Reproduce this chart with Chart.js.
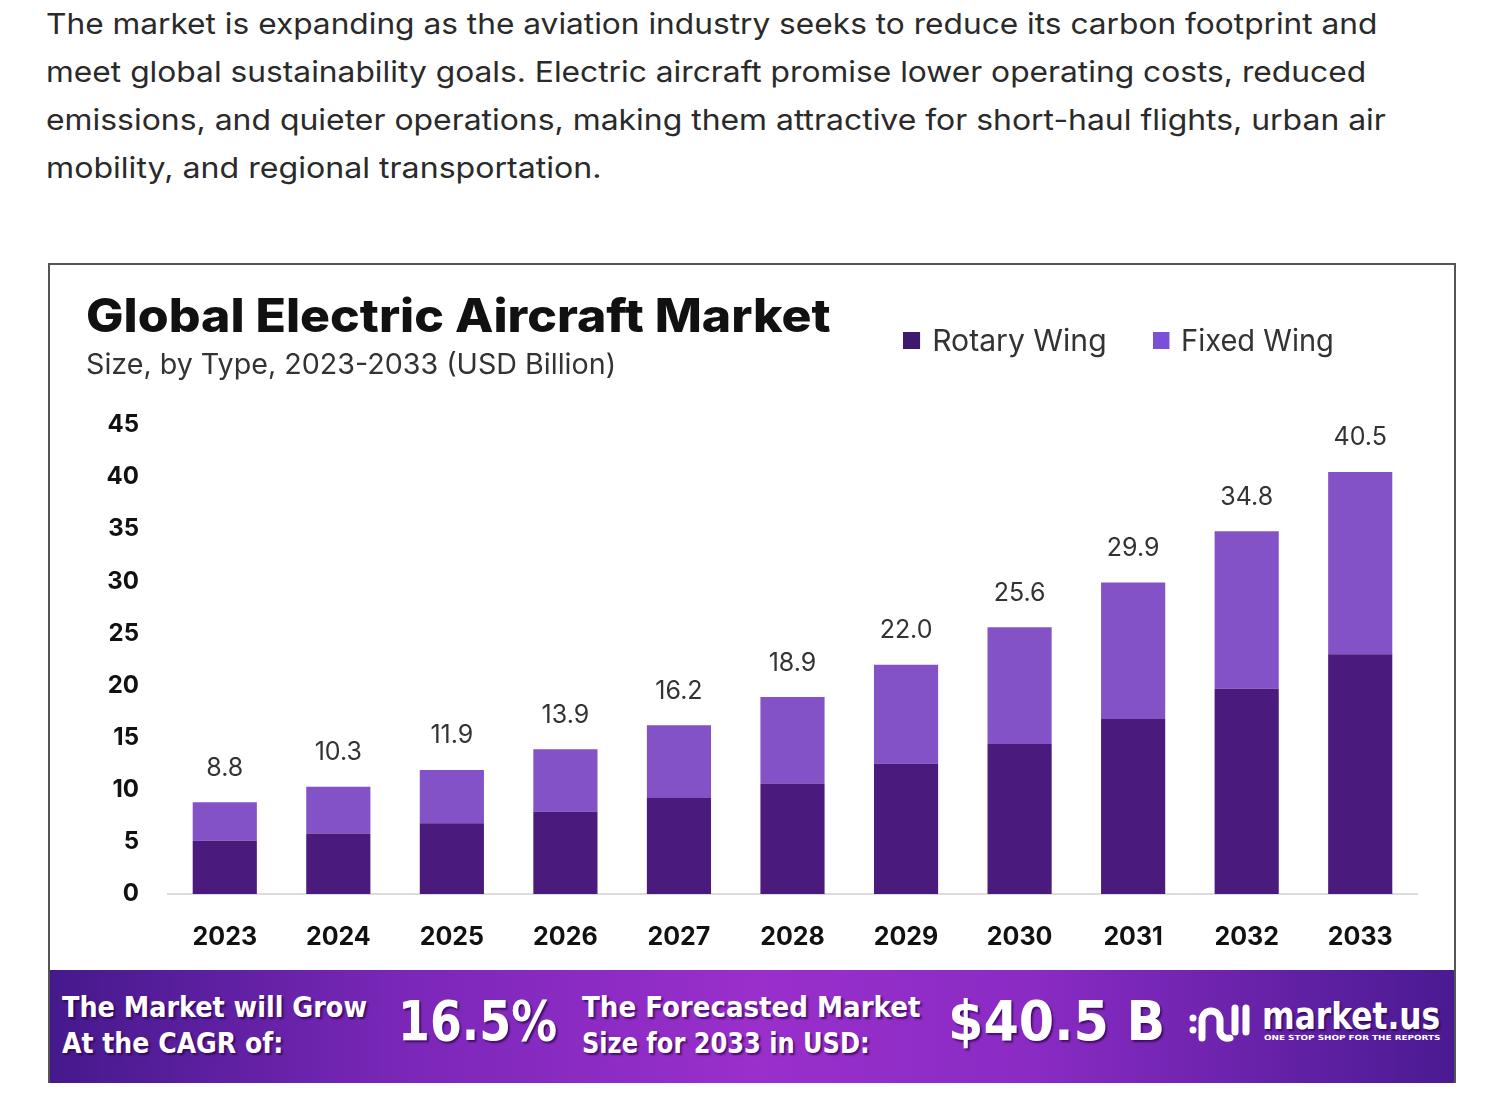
<!DOCTYPE html>
<html>
<head>
<meta charset="utf-8">
<script src="https://cdn.jsdelivr.net/npm/chart.js@4.4.1/dist/chart.umd.min.js"></script>
<style>
    body { margin: 0; width: 1500px; height: 1098px; background: #fff; position: relative; overflow: hidden; font-family: Inter, "Open Sans", sans-serif; }
    .fit { position: absolute; white-space: nowrap; transform-origin: 0 50%; }
    #intro { position: absolute; left: 46px; top: 0; font-size: 29px; line-height: 48px; color: #2a2a2a; }
    #intro div { white-space: nowrap; transform-origin: 0 50%; }
    #box { position: absolute; left: 48px; top: 263px; width: 1404px; height: 818px; border: 2px solid #555; border-bottom: none; background: #fff; }
    #title { left: 36px; top: 22px; font-size: 46px; font-weight: 800; color: #111; line-height: 56px; }
    #subtitle { left: 36px; top: 81px; font-size: 28px; color: #333; line-height: 36px; }
    .legend { position: absolute; top: 57px; font-size: 30px; color: #333; line-height: 36px; white-space: nowrap; transform-origin: 0 50%; }
    .legend span { display: inline-block; width: 17px; height: 17px; margin-right: 12px; vertical-align: 2px; }
    #chart { position: absolute; left: 0; top: 0; }
    #footer { position: absolute; left: 0; top: 705px; width: 1404px; height: 113px;
        background: linear-gradient(90deg, #45198c 0%, #7a27b8 25%, #9a2fcc 50%, #8a2bc4 70%, #4a1a92 100%); }
    #footer .fit { color: #fff; font-weight: 700; text-shadow: 2px 2px 2px rgba(40, 0, 70, 0.7); font-family: "DejaVu Sans Condensed", "Liberation Sans Narrow", sans-serif; }
    .small { font-size: 28px; line-height: 34px; }
    .big { font-size: 56px; line-height: 64px; font-family: "DejaVu Sans", sans-serif !important; }
</style>
</head>
<body>
<div id="intro">
    <div data-w="1332">The market is expanding as the aviation industry seeks to reduce its carbon footprint and</div>
    <div data-w="1320">meet global sustainability goals. Electric aircraft promise lower operating costs, reduced</div>
    <div data-w="1340">emissions, and quieter operations, making them attractive for short-haul flights, urban air</div>
    <div data-w="556">mobility, and regional transportation.</div>
</div>

<div id="box">
    <canvas id="chart" width="1404" height="705"></canvas>
    <div class="fit" id="title" data-w="745">Global Electric Aircraft Market</div>
    <div class="fit" id="subtitle" data-w="530">Size, by Type, 2023-2033 (USD Billion)</div>
    <div class="legend" style="left: 853px;" data-w="204"><span style="background:#3d1a6e"></span>Rotary Wing</div>
    <div class="legend" style="left: 1103px;" data-w="181"><span style="background:#7b4fd8"></span>Fixed Wing</div>

    <div id="footer">
        <div class="fit small" style="left: 12px; top: 21px;" data-w="305">The Market will Grow</div>
        <div class="fit small" style="left: 12px; top: 57px;" data-w="221">At the CAGR of:</div>
        <div class="fit big" style="left: 348px; top: 19px;" data-w="159">16.5%</div>
        <div class="fit small" style="left: 532px; top: 21px;" data-w="338">The Forecasted Market</div>
        <div class="fit small" style="left: 532px; top: 57px;" data-w="288">Size for 2033 in USD:</div>
        <div class="fit big" style="left: 898px; top: 19px;" data-w="217">$40.5 B</div>
        <svg style="position:absolute; left:1138px; top:28px;" width="64" height="50" viewBox="0 0 64 50">
            <g fill="none" stroke="#fff" stroke-width="7" stroke-linecap="round">
                <path d="M14 40 V22 a9 9 0 0 1 18 0 V34 a8 8 0 0 0 10 6"/>
                <path d="M47 10 V34"/>
                <path d="M58 10 V34"/>
            </g>
            <circle cx="5" cy="20" r="3.5" fill="#fff"/>
            <circle cx="5" cy="32" r="3.5" fill="#fff"/>
        </svg>
        <div class="fit" style="left: 1212px; top: 24px; font-size: 38px; line-height: 44px; font-family: 'DejaVu Sans', sans-serif;" data-w="178">market.us</div>
        <div class="fit" style="left: 1214px; top: 64px; font-size: 7px; line-height: 9px; text-shadow: none; font-family: 'DejaVu Sans', sans-serif;" data-w="176">ONE STOP SHOP FOR THE REPORTS</div>
    </div>
</div>

<script>
const years = ['2023', '2024', '2025', '2026', '2027', '2028', '2029', '2030', '2031', '2032', '2033'];
const rotaryWing = [5.1, 5.8, 6.8, 7.9, 9.2, 10.6, 12.5, 14.4, 16.8, 19.7, 23.0];
const fixedWing = [3.7, 4.5, 5.1, 6.0, 7.0, 8.3, 9.5, 11.2, 13.1, 15.1, 17.5];
const totals = ['8.8', '10.3', '11.9', '13.9', '16.2', '18.9', '22.0', '25.6', '29.9', '34.8', '40.5'];
const yTicks = [0, 5, 10, 15, 20, 25, 30, 35, 40, 45];

// squeeze/stretch text blocks to the widths measured on the picture
document.querySelectorAll('[data-w]').forEach(function(el) {
    const wasBlock = el.parentNode.id === 'intro';
    el.style.display = 'inline-block';
    const w = el.offsetWidth;
    if (wasBlock) el.style.display = 'block';
    el.style.transform = 'scaleX(' + (parseFloat(el.dataset.w) / w) + ')';
});

const totalLabels = {
    id: 'totalLabels',
    afterDatasetsDraw(chart) {
        const ctx = chart.ctx;
        const meta = chart.getDatasetMeta(1);
        ctx.save();
        ctx.font = '25px Inter, sans-serif';
        ctx.fillStyle = '#333';
        ctx.textAlign = 'center';
        ctx.textBaseline = 'middle';
        meta.data.forEach(function(bar, i) {
            ctx.fillText(totals[i], bar.x, bar.y - 34);
        });
        ctx.restore();
    }
};

new Chart(document.getElementById('chart'), {
    type: 'bar',
    data: {
        labels: years,
        datasets: [{
            label: 'Rotary Wing',
            data: rotaryWing,
            backgroundColor: '#4a1a7c',
            barPercentage: 0.565,
            categoryPercentage: 1
        }, {
            label: 'Fixed Wing',
            data: fixedWing,
            backgroundColor: '#8252c6',
            barPercentage: 0.565,
            categoryPercentage: 1
        }]
    },
    options: {
        responsive: false,
        animation: false,
        layout: { padding: { left: 48, right: 37, top: 160, bottom: 0 } },
        plugins: {
            legend: { display: false },
            tooltip: { enabled: false }
        },
        scales: {
            x: {
                stacked: true,
                grid: { display: false },
                border: { display: true, color: '#dcdcdc', width: 2 },
                ticks: { color: '#111', font: { family: 'Inter', size: 25, weight: 'bold' }, padding: 20 },
                afterFit: function(s) { s.height = 76; }
            },
            y: {
                stacked: true,
                min: 0,
                max: 45,
                afterBuildTicks: function(s) { s.ticks = yTicks.map(v => ({ value: v })); },
                grid: { display: false },
                border: { display: false },
                ticks: { color: '#111', font: { family: 'Inter', size: 24, weight: 'bold' }, padding: 21 },
                afterFit: function(s) { s.width = 70; }
            }
        }
    },
    plugins: [totalLabels]
});
</script>
</body>
</html>
